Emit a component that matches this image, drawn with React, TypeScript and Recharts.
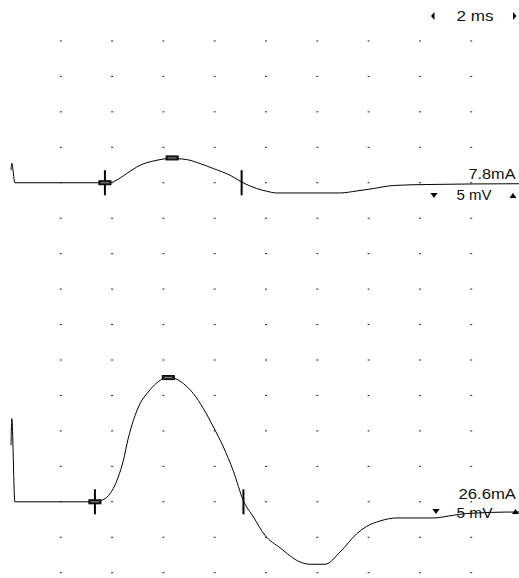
import { LineChart, Line, XAxis, YAxis, Scatter } from 'recharts';

// time axis, 2 ms per division
const timeTicks = [0, 2, 4, 6, 8, 10, 12, 14, 16, 18, 20];

// upper trace, 7.8 mA stimulus (t in ms, v in mV)
const upperTrace = [
  { t: 0.06, v: 1.76 }, { t: 0.09, v: 2.75 }, { t: 0.21, v: 0 }, { t: 3.72, v: 0 },
  { t: 3.92, v: 0 }, { t: 4.11, v: 0.25 }, { t: 4.57, v: 1.3 }, { t: 5.09, v: 2.47 },
  { t: 5.61, v: 3.07 }, { t: 6.13, v: 3.41 }, { t: 6.34, v: 3.5 }, { t: 6.52, v: 3.41 },
  { t: 6.91, v: 3.27 }, { t: 7.43, v: 2.71 }, { t: 7.95, v: 2.0 }, { t: 8.6, v: 1.06 },
  { t: 9.05, v: 0.11 }, { t: 9.64, v: -0.82 }, { t: 10.03, v: -1.2 }, { t: 10.42, v: -1.44 },
  { t: 12.88, v: -1.44 }, { t: 13.54, v: -1.16 }, { t: 14.18, v: -0.82 }, { t: 14.96, v: -0.39 },
  { t: 16.27, v: -0.25 }, { t: 19.86, v: -0.14 }, { t: 20, v: -0.14 },
];

// lower trace, 26.6 mA stimulus
const lowerTrace = [
  { t: 0.06, v: 7.97 }, { t: 0.09, v: 11.73 }, { t: 0.21, v: 0 }, { t: 3.33, v: 0 },
  { t: 3.53, v: 0.14 }, { t: 3.79, v: 0.63 }, { t: 4.05, v: 1.9 }, { t: 4.24, v: 3.5 },
  { t: 4.44, v: 5.85 }, { t: 4.63, v: 8.96 }, { t: 4.83, v: 11.49 }, { t: 5.09, v: 13.85 },
  { t: 5.41, v: 15.49 }, { t: 5.74, v: 16.76 }, { t: 6.0, v: 17.38 }, { t: 6.19, v: 17.52 },
  { t: 6.45, v: 17.38 }, { t: 6.78, v: 16.67 }, { t: 7.17, v: 15.26 }, { t: 7.56, v: 13.15 },
  { t: 7.95, v: 10.55 }, { t: 8.34, v: 7.73 }, { t: 8.73, v: 4.3 }, { t: 9.12, v: 0.14 },
  { t: 9.51, v: -2.14 }, { t: 9.96, v: -4.72 }, { t: 10.55, v: -6.49 }, { t: 11.33, v: -8.49 },
  { t: 11.72, v: -8.81 }, { t: 12.3, v: -8.81 }, { t: 12.89, v: -7.08 }, { t: 13.54, v: -4.49 },
  { t: 13.93, v: -3.46 }, { t: 14.44, v: -2.71 }, { t: 15.1, v: -2.28 }, { t: 16.52, v: -2.28 },
  { t: 17.3, v: -1.9 }, { t: 17.82, v: -1.66 }, { t: 19.77, v: -1.44 }, { t: 20, v: -1.44 },
];

// onset / peak / end cursors on each trace
const upperMarkers = [
  { t: 3.72, v: 0, kind: 'onset' },
  { t: 6.34, v: 3.5, kind: 'peak' },
  { t: 9.05, v: 0, kind: 'end' },
];
const lowerMarkers = [
  { t: 3.33, v: 0, kind: 'onset' },
  { t: 6.19, v: 17.52, kind: 'peak' },
  { t: 9.12, v: 0, kind: 'end' },
];

// 5 mV per division, 16 divisions; upper axis levels for the dotted grid
const gridLevels = [20, 15, 10, 5, 0, -5, -10, -15, -20, -25, -30, -35, -40, -45, -50, -55];
const gridDots = timeTicks
  .filter((t) => t > 0 && t < 20)
  .flatMap((t) => gridLevels.map((v) => ({ t, v })));

const GridDot = (props: any) => (
  <rect x={props.cx - 1} y={props.cy - 0.5} width={2} height={1} fill="#222" />
);

const Cursor = (props: any) => {
  const { cx, cy, payload } = props;
  if (payload.kind === 'peak') {
    return (
      <g>
        <rect x={cx - 6} y={cy - 2} width={12} height={4} fill="#222" stroke="#000" strokeWidth={1} />
        <line x1={cx - 4} x2={cx + 4} y1={cy} y2={cy} stroke="#888" strokeWidth={1} />
      </g>
    );
  }
  return (
    <g>
      <line x1={cx} x2={cx} y1={cy - 12.5} y2={cy + 12.5} stroke="#000" strokeWidth={2} />
      {payload.kind === 'onset' && (
        <g>
          <rect x={cx - 6} y={cy - 2} width={12} height={4} fill="#222" stroke="#000" strokeWidth={1} />
          <line x1={cx - 4} x2={cx + 4} y1={cy} y2={cy} stroke="#888" strokeWidth={1} />
        </g>
      )}
    </g>
  );
};

const font = { fontFamily: '"Liberation Sans", Arial, sans-serif', fontSize: 14, fill: '#111', lengthAdjust: 'spacingAndGlyphs' as const };

const Down = ({ x, y }: { x: number; y: number }) => <polygon points={`${x - 3.5},${y - 2.5} ${x + 3.5},${y - 2.5} ${x},${y + 2.5}`} fill="#000" />;
const Up = ({ x, y }: { x: number; y: number }) => <polygon points={`${x - 3.5},${y + 2.5} ${x + 3.5},${y + 2.5} ${x},${y - 2.5}`} fill="#000" />;

export default function App() {
  return (
    <div style={{ position: 'fixed', left: 0, top: 0, width: 519, height: 578, overflow: 'hidden', background: '#fff' }}>
      <LineChart width={540} height={578} margin={{ top: 5.5, right: 17.5, bottom: 5.3, left: 9.5 }}>
        <XAxis type="number" dataKey="t" domain={[0, 20]} ticks={timeTicks} hide />
        <YAxis yAxisId="upper" type="number" domain={[-55, 25]} hide />
        <YAxis yAxisId="lower" type="number" domain={[-10, 70]} hide />
        <Scatter yAxisId="upper" data={gridDots} dataKey="v" shape={<GridDot />} isAnimationActive={false} />
        <Line yAxisId="upper" data={upperTrace} dataKey="v" type="monotone" stroke="#000" strokeWidth={1} dot={false} isAnimationActive={false} />
        <Line yAxisId="lower" data={lowerTrace} dataKey="v" type="monotone" stroke="#000" strokeWidth={1} dot={false} isAnimationActive={false} />
        <Scatter yAxisId="upper" data={upperMarkers} dataKey="v" shape={<Cursor />} isAnimationActive={false} />
        <Scatter yAxisId="lower" data={lowerMarkers} dataKey="v" shape={<Cursor />} isAnimationActive={false} />
      </LineChart>
      <svg width={519} height={578} style={{ position: 'absolute', left: 0, top: 0, pointerEvents: 'none' }}>
        <polygon points="431,16 434.5,12 434.5,20" fill="#000" />
        <text x={456.5} y={21} textLength={37} {...font}>2 ms</text>
        <polygon points="516.5,16 513,12 513,20" fill="#000" />

        <text x={468.5} y={178.5} textLength={47} {...font}>7.8mA</text>
        <Down x={434} y={195.5} />
        <text x={456.5} y={199.5} textLength={35} {...font}>5 mV</text>
        <Up x={513} y={195.5} />

        <text x={458.5} y={498.5} textLength={57.5} {...font}>26.6mA</text>
        <Down x={436} y={511.5} />
        <text x={456.5} y={517.5} textLength={36} {...font}>5 mV</text>
        <Up x={515.5} y={511.5} />
      </svg>
    </div>
  );
}
